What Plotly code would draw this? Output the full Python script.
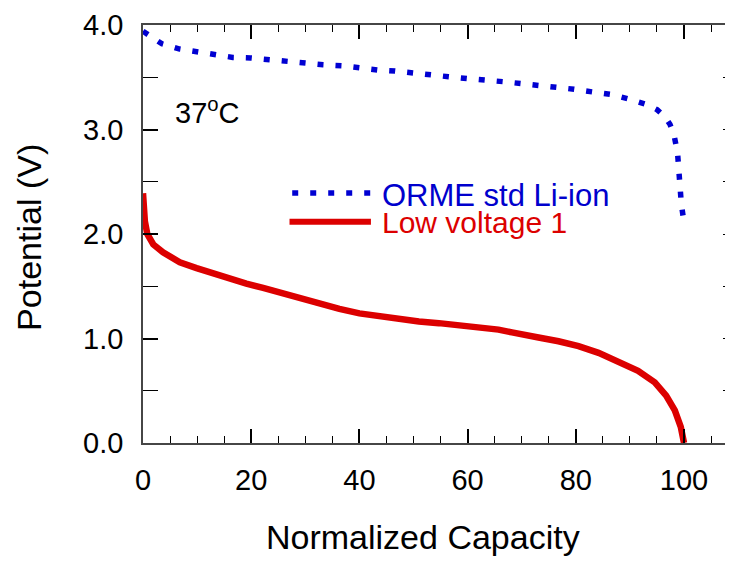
import plotly.graph_objects as go

# ---- data ----
orme_capacity = [0.0, 3.5, 6.8, 10.1, 13.4, 16.6, 19.9, 23.4, 26.5, 30.0, 33.3, 36.8, 39.8,
                 43.3, 46.6, 49.9, 53.0, 56.5, 59.9, 63.4, 66.5, 69.8, 73.3, 76.4, 79.7,
                 83.0, 86.5, 89.9, 93.2, 95.0, 96.4, 97.4, 98.1, 98.8, 99.0, 99.3, 99.5, 100.0]
orme_potential = [3.94, 3.82, 3.77, 3.74, 3.72, 3.69, 3.685, 3.666, 3.657, 3.634, 3.62, 3.61, 3.59,
                  3.57, 3.56, 3.546, 3.524, 3.505, 3.487, 3.477, 3.458, 3.44, 3.423, 3.40, 3.385,
                  3.36, 3.335, 3.29, 3.237, 3.19, 3.127, 3.05, 2.96, 2.78, 2.63, 2.45, 2.29, 2.11]

low_capacity = [0.0, 0.1, 0.35, 0.8, 1.9, 3.7, 6.8, 9.9, 13.0, 16.0, 19.1, 22.2, 25.2, 28.3,
                31.4, 34.4, 36.3, 40.0, 43.6, 46.7, 51.0, 54.7, 58.4, 62.1, 64.5, 65.7, 68.2, 69.4,
                73.1, 76.8, 80.5, 84.2, 87.8, 91.5, 94.6, 96.7, 98.3, 99.4, 100.0]
low_potential = [2.39, 2.25, 2.12, 2.00, 1.90, 1.825, 1.73, 1.674, 1.62, 1.573, 1.525, 1.485, 1.44, 1.393,
                 1.35, 1.31, 1.283, 1.24, 1.21, 1.185, 1.163, 1.147, 1.13, 1.116, 1.094, 1.085, 1.058, 1.05,
                 1.01, 0.974, 0.927, 0.863, 0.785, 0.69, 0.58, 0.454, 0.312, 0.154, 0.0]

series_names = ["ORME std Li-ion", "Low voltage 1"]
x_title = "Normalized Capacity"
y_title = "Potential (V)"
temp_label = "37<sup>o</sup>C"

BLUE = "rgb(0,0,210)"
RED = "rgb(220,0,0)"
FONT = "Liberation Sans, Arial, sans-serif"

fig = go.Figure()
fig.add_trace(go.Scatter(x=orme_capacity, y=orme_potential, mode="lines",
                         line=dict(color=BLUE, width=5.5, dash="6px,12px"),
                         name=series_names[0], showlegend=False, cliponaxis=False))
fig.add_trace(go.Scatter(x=low_capacity, y=low_potential, mode="lines",
                         line=dict(color=RED, width=6.5),
                         name=series_names[1], showlegend=False))
# empty trace to activate the right-hand tick axis
fig.add_trace(go.Scatter(x=[], y=[], yaxis="y2", showlegend=False, hoverinfo="skip"))

axis_line = "rgb(70,70,70)"
fig.update_layout(
    width=725, height=553,
    margin=dict(l=135, r=1, t=12, b=118),
    paper_bgcolor="white", plot_bgcolor="white",
    font=dict(family=FONT, color="black"),
    xaxis=dict(range=[0, 108.5], dtick=20, tick0=0, ticks="inside", ticklen=14, tickwidth=1.5,
               tickcolor="black", showline=True, linecolor=axis_line, linewidth=1.5, mirror="ticks",
               showgrid=False, zeroline=False, tickfont=dict(size=29, family=FONT),
               ticklabelstandoff=10, ticklabeloverflow="allow",
               minor=dict(dtick=5, ticks="inside", ticklen=7, tickwidth=1.2, tickcolor="black",
                          showgrid=False)),
    yaxis=dict(range=[0, 4.0], dtick=1, tick0=0, tickformat=".1f", ticks="inside", ticklen=15,
               tickwidth=1.5, tickcolor="black", showline=True, linecolor=axis_line, linewidth=1.5,
               mirror=True, showgrid=False, zeroline=False, tickfont=dict(size=29, family=FONT),
               ticklabelstandoff=12, ticklabeloverflow="allow",
               minor=dict(dtick=0.5, ticks="inside", ticklen=15, tickwidth=1.2, tickcolor="black",
                          showgrid=False)),
    yaxis2=dict(range=[0, 4.0], overlaying="y", side="right", dtick=0.5, ticks="inside",
                ticklen=7, tickwidth=1.2, tickcolor="black", showticklabels=False,
                showline=False, showgrid=False, zeroline=False),
    showlegend=False,
)

# legend (drawn manually to match long sample lines)
fig.add_shape(type="line", xref="paper", yref="paper", x0=0.2542, x1=0.3883, y0=0.598, y1=0.598,
              line=dict(color=BLUE, width=5.5, dash="6px,12px"))
fig.add_shape(type="line", xref="paper", yref="paper", x0=0.2496, x1=0.3883, y0=0.5296, y1=0.5296,
              line=dict(color=RED, width=6))
fig.add_annotation(text=series_names[0], xref="paper", yref="paper", x=0.404, y=0.591,
                   xanchor="left", yanchor="middle", showarrow=False,
                   font=dict(size=31, color="rgb(0,0,205)", family=FONT))
fig.add_annotation(text=series_names[1], xref="paper", yref="paper", x=0.404, y=0.527,
                   xanchor="left", yanchor="middle", showarrow=False,
                   font=dict(size=30, color="rgb(220,0,0)", family=FONT))
fig.add_annotation(text=temp_label, xref="paper", yref="paper", x=0.0509, y=0.795,
                   xanchor="left", yanchor="middle", showarrow=False,
                   font=dict(size=29, color="black", family=FONT))
fig.add_annotation(text=x_title, xref="paper", yref="paper", x=0.477, y=-0.2258,
                   xanchor="center", yanchor="middle", showarrow=False,
                   font=dict(size=34, color="black", family=FONT))
fig.add_annotation(text=y_title, xref="paper", yref="paper", x=-0.1935, y=0.4917,
                   xanchor="center", yanchor="middle", showarrow=False, textangle=-90,
                   font=dict(size=34, color="black", family=FONT))

fig.write_html("out.html")
